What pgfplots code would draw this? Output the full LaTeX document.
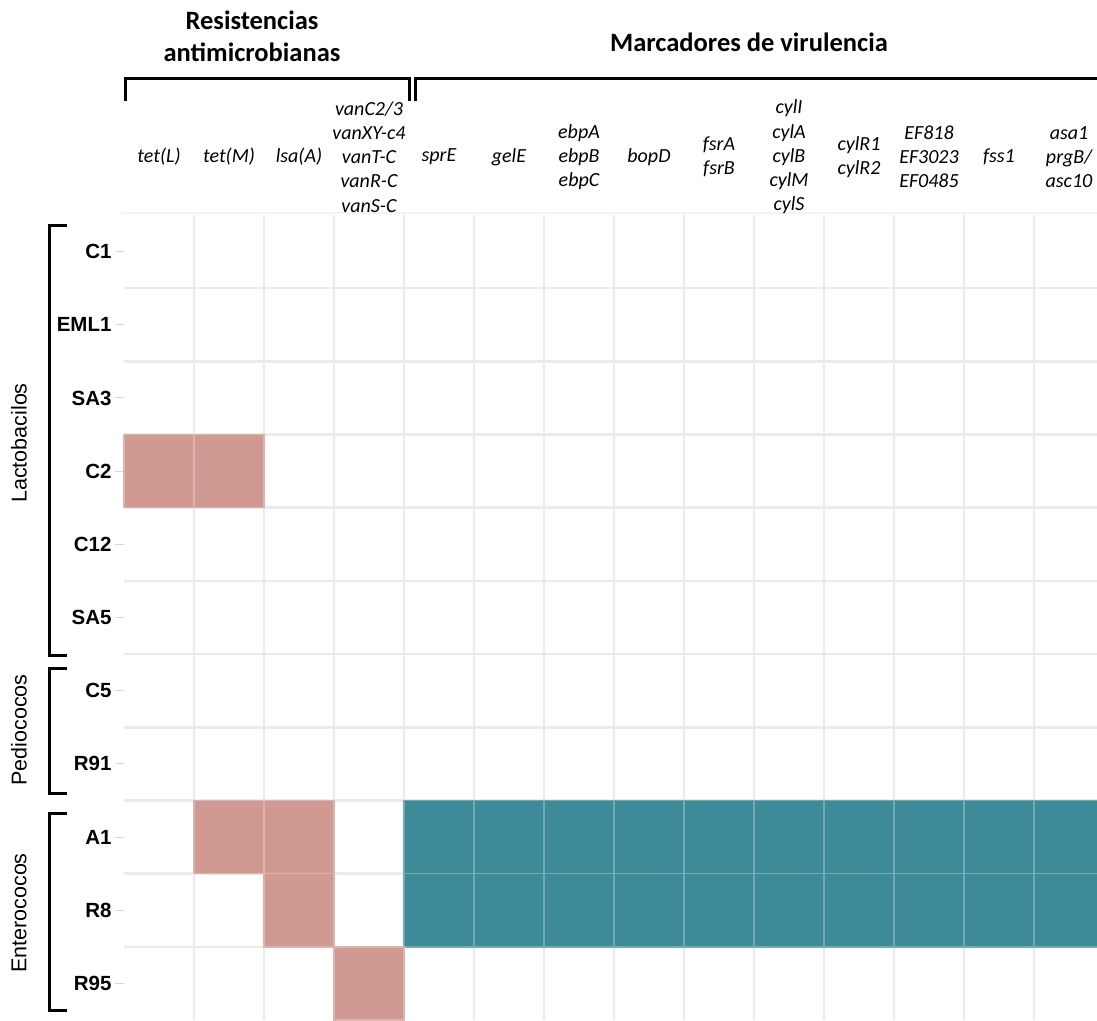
\documentclass[border=0pt]{standalone}
\usepackage{pgfplots}
\pgfplotsset{compat=1.18}
\usepackage{pgfplotstable}
\usepackage{fontspec}
\setmainfont{Carlito}
\newfontfamily\arialfont{Liberation Sans}
\definecolor{pinkc}{RGB}{208,154,146}
\definecolor{tealc}{RGB}{61,138,152}
\definecolor{gridc}{RGB}{235,235,235}
\definecolor{tickc}{RGB}{215,215,215}
\pgfdeclareplotmark{cell}{%
  \pgfpathrectangle{\pgfpoint{-35bp}{-36.59bp}}{\pgfpoint{70bp}{73.18bp}}%
  \pgfusepathqfillstroke}

% x = gene column (0..13), y = strain row (0..10), c = p (resistance) / t (virulence)
\pgfplotstableread{
x y c
0 3 p
1 3 p
1 8 p
2 8 p
4 8 t
5 8 t
6 8 t
7 8 t
8 8 t
9 8 t
10 8 t
11 8 t
12 8 t
13 8 t
2 9 p
4 9 t
5 9 t
6 9 t
7 9 t
8 9 t
9 9 t
10 9 t
11 9 t
12 9 t
13 9 t
3 10 p
}\cells

\begin{document}
\begin{tikzpicture}
\useasboundingbox (0bp,0bp) rectangle (1097bp,-1021bp);
\clip (0bp,0bp) rectangle (1097bp,-1021bp);
\draw[color=gridc!60!white, line width=1.5bp] (122bp,-213bp) -- (1097bp,-213bp);
\begin{axis}[
  at={(124bp,-1020bp)}, anchor=south west,
  scale only axis, width=973bp, height=805bp,
  xmin=-0.5, xmax=13.4, ymin=-0.5, ymax=10.5,
  y dir=reverse,
  axis line style={draw=none},
  xtick={0,...,13},
  xticklabel pos=right,
  xtick style={draw=none},
  xticklabels={{tet(L)},{tet(M)},{lsa(A)},{vanC2/3\\vanXY-c4\\vanT-C\\vanR-C\\vanS-C},{sprE},{gelE},{ebpA\\ebpB\\ebpC},{bopD},{fsrA\\fsrB},{cylI\\cylA\\cylB\\cylM\\cylS},{cylR1\\cylR2},{EF818\\EF3023\\EF0485},{fss1},{asa1\\prgB/\\asc10}},
  xticklabel style={anchor=center, align=center, yshift=49bp, font=\fontsize{20bp}{24.2bp}\selectfont\itshape},
  ytick={0,...,10},
  ytick pos=left,
  yticklabels={C1,EML1,SA3,C2,C12,SA5,C5,R91,A1,R8,R95},
  yticklabel style={font=\fontsize{20.5bp}{24bp}\selectfont\arialfont\bfseries},
  tick align=outside,
  major tick length=9bp,
  ytick style={draw=tickc, line width=1bp},
  minor xtick={0.5,1.5,...,12.5},
  minor ytick={0.5,1.5,...,9.5},
  minor tick length=0pt,
  grid=minor,
  minor grid style={draw=gridc, line width=2.6bp},
]
\addplot[scatter, only marks, mark=cell,
  scatter src=explicit symbolic,
  mark options={line width=1.5bp},
  scatter/classes={
    p={mark=cell, fill=pinkc, draw=pinkc!75!white},
    t={mark=cell, fill=tealc, draw=tealc!72!white}}
] table[x=x, y=y, meta=c] {\cells};
\end{axis}
% headers
\node[font=\fontsize{26.5bp}{32bp}\selectfont\bfseries, align=center] at (252bp,-36bp) {Resistencias\\antimicrobianas};
\node[font=\fontsize{26.5bp}{32bp}\selectfont\bfseries] at (749bp,-42bp) {Marcadores de virulencia};
\draw[line width=3bp, line cap=rect] (125bp,-99bp) -- (125bp,-78bp) -- (409bp,-78bp) -- (409bp,-99bp);
\draw[line width=3bp, line cap=rect] (415bp,-99bp) -- (415bp,-78bp) -- (1110bp,-78bp);
% group brackets
\draw[line width=3bp] (67bp,-225bp) -- (49bp,-225bp) -- (49bp,-655bp) -- (67bp,-655bp);
\draw[line width=3bp] (67bp,-668bp) -- (49bp,-668bp) -- (49bp,-793bp) -- (67bp,-793bp);
\draw[line width=3bp] (67bp,-813bp) -- (49bp,-813bp) -- (49bp,-1010bp) -- (67bp,-1010bp);
\node[rotate=90, font=\fontsize{21.5bp}{25bp}\selectfont\arialfont] at (19bp,-443bp) {Lactobacilos};
\node[rotate=90, font=\fontsize{21.5bp}{25bp}\selectfont\arialfont] at (19bp,-730bp) {Pediococos};
\node[rotate=90, font=\fontsize{21.5bp}{25bp}\selectfont\arialfont] at (19bp,-913bp) {Enterococos};
\end{tikzpicture}
\end{document}
